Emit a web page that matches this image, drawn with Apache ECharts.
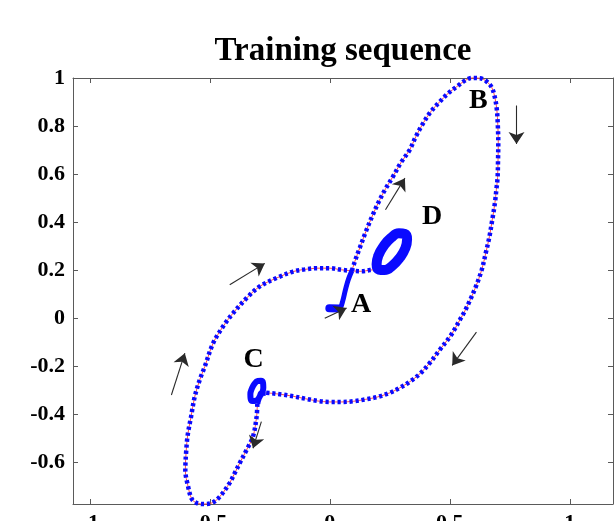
<!DOCTYPE html>
<html>
<head>
<meta charset="utf-8">
<script src="https://cdn.jsdelivr.net/npm/echarts@6/dist/echarts.min.js"></script>
<style>
  html, body { margin: 0; padding: 0; background: #fff; overflow: hidden; }
  #chart { width: 614px; height: 521px; }
</style>
</head>
<body>
<div id="chart"></div>
<script>
// Axis limits and tick labels
const xRange = [-1.07, 1.18];
const yRange = [-0.774, 1];
const xTicks = [-1, -0.5, 0, 0.5, 1];
const yTicks = [-0.6, -0.4, -0.2, 0, 0.2, 0.4, 0.6, 0.8, 1];

// Main trajectory: from the crossing up to B, down the right side,
// then along the lower branch towards C
const outerPath = [
  [0.092, 0.197], [0.104, 0.235], [0.125, 0.293], [0.150, 0.360], [0.179, 0.430],
  [0.208, 0.493], [0.233, 0.540], [0.263, 0.589], [0.296, 0.647], [0.333, 0.701],
  [0.358, 0.755], [0.388, 0.810], [0.421, 0.860], [0.458, 0.901], [0.492, 0.935],
  [0.529, 0.964], [0.563, 0.989], [0.592, 1.000], [0.625, 0.999], [0.654, 0.985],
  [0.675, 0.960], [0.688, 0.918], [0.696, 0.868], [0.700, 0.805], [0.702, 0.730],
  [0.701, 0.660], [0.699, 0.585], [0.694, 0.535], [0.688, 0.480], [0.677, 0.410],
  [0.665, 0.339], [0.650, 0.272], [0.633, 0.201], [0.608, 0.130], [0.583, 0.072],
  [0.563, 0.030], [0.542, -0.007], [0.521, -0.045], [0.500, -0.078], [0.458, -0.132],
  [0.417, -0.186], [0.375, -0.232], [0.333, -0.265], [0.292, -0.290], [0.250, -0.311],
  [0.200, -0.328], [0.150, -0.338], [0.100, -0.346], [0.050, -0.349], [0.000, -0.349],
  [-0.050, -0.345], [-0.100, -0.336], [-0.150, -0.326], [-0.200, -0.318], [-0.242, -0.313],
  [-0.267, -0.311]
];
// From C down to the bottom, up the left side and back to the crossing
const lowerReturn = [
  [-0.302, -0.357], [-0.305, -0.410], [-0.320, -0.493], [-0.347, -0.549], [-0.375, -0.603],
  [-0.396, -0.645], [-0.417, -0.686], [-0.458, -0.743], [-0.488, -0.768], [-0.521, -0.774],
  [-0.554, -0.770], [-0.575, -0.753], [-0.590, -0.703], [-0.602, -0.632], [-0.598, -0.549],
  [-0.592, -0.486], [-0.579, -0.415], [-0.563, -0.328], [-0.542, -0.257], [-0.521, -0.202],
  [-0.486, -0.104], [-0.445, -0.035], [-0.403, 0.021], [-0.347, 0.083], [-0.292, 0.132],
  [-0.222, 0.167], [-0.153, 0.194], [-0.104, 0.203], [-0.050, 0.208], [0.000, 0.208],
  [0.050, 0.201], [0.092, 0.197], [0.133, 0.195], [0.167, 0.200], [0.204, 0.202]
];

// Repeated loop near D
const loopD = [
  [0.204, 0.202], [0.195, 0.224], [0.202, 0.260], [0.225, 0.301],
  [0.256, 0.335], [0.288, 0.353], [0.313, 0.350], [0.322, 0.328], [0.315, 0.292],
  [0.292, 0.252], [0.260, 0.218], [0.228, 0.200], [0.204, 0.202], [0.195, 0.224],
  [0.202, 0.260]
];

// Repeated loop near C
const loopC = [
  [-0.267, -0.311], [-0.283, -0.312], [-0.295, -0.332], [-0.309, -0.344], [-0.322, -0.345],
  [-0.330, -0.335], [-0.331, -0.317], [-0.325, -0.294], [-0.314, -0.274], [-0.300, -0.262],
  [-0.287, -0.261], [-0.278, -0.271], [-0.277, -0.290], [-0.283, -0.312], [-0.295, -0.332],
  [-0.302, -0.357]
];

// Start at A and rise to the crossing
const startA = [
  [-0.006, 0.041], [0.017, 0.038], [0.042, 0.041], [0.054, 0.072],
  [0.065, 0.118], [0.077, 0.160], [0.092, 0.197]
];
const blobA = [[-0.002, 0.041], [0.038, 0.040]];

// Direction arrows [x1, y1, x2, y2]
const arrows = [
  [0.778, 0.885, 0.778, 0.725],
  [0.232, 0.451, 0.313, 0.583],
  [0.611, -0.058, 0.510, -0.197],
  [-0.285, -0.431, -0.320, -0.542],
  [-0.660, -0.320, -0.604, -0.146],
  [-0.417, 0.139, -0.271, 0.228],
  [-0.021, 0.000, 0.070, 0.042]
];

// Point labels
const pointNames = ['A', 'B', 'C', 'D'];
const pointPos = [[0.130, 0.057], [0.619, 0.907], [-0.317, -0.174], [0.426, 0.421]];

const serif = 'Liberation Serif, Times New Roman, serif';
const blue = '#0a0aff';
const red = '#ff4a4a';

function dottedPair(data) {
  return [
    { type: 'line', data: data, smooth: 0.35, showSymbol: false, clip: false, z: 2,
      lineStyle: { color: red, width: 1 } },
    { type: 'line', data: data, smooth: 0.35, showSymbol: false, clip: false, z: 3,
      lineStyle: { color: blue, width: 4.5, type: [3.2, 2.8], cap: 'butt' } }
  ];
}

function boxAxis(pos, range, ticks, showLabel) {
  return {
    type: 'value', position: pos, min: range[0], max: range[1],
    axisLine: { show: true, onZero: false, lineStyle: { color: '#5a5a5a', width: 1 } },
    axisTick: { show: true, inside: true, length: 5, customValues: ticks,
      lineStyle: { color: '#5a5a5a', width: 1 } },
    axisLabel: { show: showLabel, customValues: ticks, margin: 8,
      color: '#000', fontFamily: serif, fontWeight: 'bold', fontSize: 22 },
    splitLine: { show: false }
  };
}

const chart = echarts.init(document.getElementById('chart'), null, { renderer: 'canvas' });
chart.setOption({
  animation: false,
  backgroundColor: '#fff',
  title: {
    text: 'Training sequence', left: 338, top: 30, textAlign: 'center',
    textStyle: { fontFamily: serif, fontWeight: 'bold', fontSize: 33, color: '#000' }
  },
  grid: { left: 73, top: 78, right: 1, bottom: 17, containLabel: false, outerBoundsMode: 'none' },
  xAxis: [boxAxis('bottom', xRange, xTicks, true), boxAxis('top', xRange, xTicks, false)],
  yAxis: [boxAxis('left', yRange, yTicks, true), boxAxis('right', yRange, yTicks, false)],
  series: [
    ...dottedPair(outerPath),
    ...dottedPair(lowerReturn),
    { type: 'line', data: loopD, smooth: 0.5, showSymbol: false, z: 4,
      lineStyle: { color: blue, width: 10 } },
    { type: 'line', data: loopC, smooth: 0.5, showSymbol: false, z: 4,
      lineStyle: { color: blue, width: 6 } },
    { type: 'line', data: startA, smooth: 0.3, showSymbol: false, z: 4,
      lineStyle: { color: blue, width: 5 } },
    { type: 'line', data: blobA, showSymbol: false, z: 4,
      lineStyle: { color: blue, width: 8, cap: 'round' } },
    { type: 'lines', coordinateSystem: 'cartesian2d', z: 6,
      symbol: ['none', 'arrow'], symbolSize: 12,
      lineStyle: { color: '#2a2a2a', width: 1.1, opacity: 1, curveness: 0 },
      data: arrows.map(a => ({ coords: [[a[0], a[1]], [a[2], a[3]]] })) },
    { type: 'scatter', symbol: 'circle', symbolSize: 0.01, z: 7, silent: true,
      itemStyle: { color: '#000', opacity: 1 },
      data: pointNames.map((n, i) => ({ name: n, value: pointPos[i] })),
      label: { show: true, position: 'inside', formatter: '{b}', color: '#000',
        textBorderWidth: 0, fontFamily: serif, fontWeight: 'bold', fontSize: 28 } }
  ]
});
</script>
</body>
</html>
